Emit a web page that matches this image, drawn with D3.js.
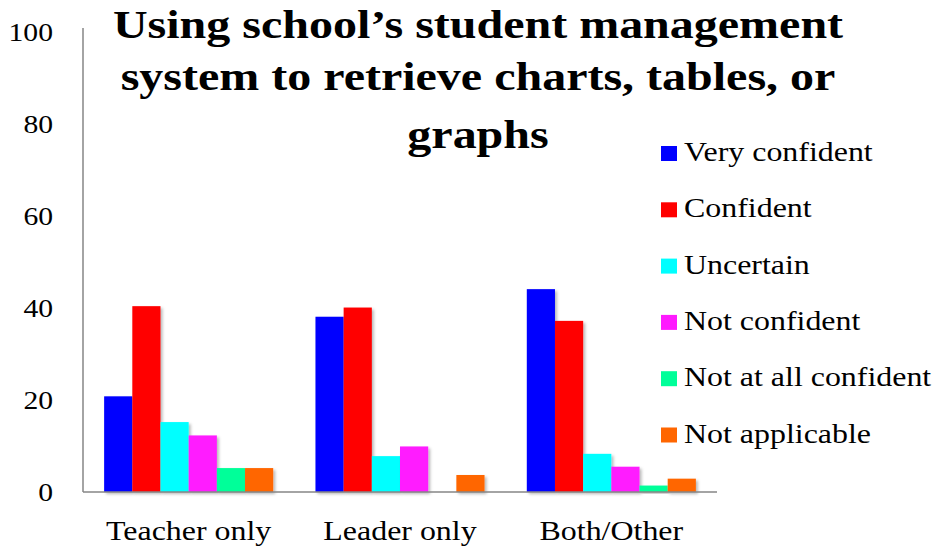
<!DOCTYPE html>
<html>
<head>
<meta charset="utf-8">
<script src="https://cdn.jsdelivr.net/npm/d3@7"></script>
<style>
  html, body { margin: 0; padding: 0; background: #fff; }
  svg { display: block; }
</style>
</head>
<body>
<svg id="chart" width="942" height="548"></svg>
<script>
const categories = ["Teacher only", "Leader only", "Both/Other"];
const seriesNames = ["Very confident", "Confident", "Uncertain", "Not confident", "Not at all confident", "Not applicable"];
const veryConfident = [20.8, 38.1, 44.1];
const confident = [40.4, 40.1, 37.2];
const uncertain = [15.2, 7.8, 8.3];
const notConfident = [12.3, 9.9, 5.5];
const notAtAllConfident = [5.2, 0, 1.4];
const notApplicable = [5.2, 3.7, 2.9];
const yTicks = [0, 20, 40, 60, 80, 100];
const titleLines = ["Using school\u2019s student management", "system to retrieve charts, tables, or", "graphs"];
const colors = ["#0000ff", "#ff0000", "#00ffff", "#ff1aff", "#00ff99", "#ff6600"];

const seriesValues = [veryConfident, confident, uncertain, notConfident, notAtAllConfident, notApplicable];
const FONT = "Liberation Serif";
const sx = 1.14;      // horizontal stretch of regular text as in the reference
const sxTitle = 1.2;  // horizontal stretch of title

const svg = d3.select("#chart");
const defs = svg.append("defs");
const f = defs.append("filter").attr("id", "shadow").attr("x", "-20%").attr("y", "-20%").attr("width", "150%").attr("height", "150%");
f.append("feDropShadow").attr("dx", 2).attr("dy", 2).attr("stdDeviation", 1.5).attr("flood-color", "#000").attr("flood-opacity", 0.28);

const plotLeft = 83, plotRight = 717, plotTop = 32, plotBottom = 492;
const y = d3.scaleLinear().domain([0, 100]).range([plotBottom, plotTop]);
const x0 = d3.scaleBand().domain(categories).range([plotLeft, plotRight]).paddingInner(0.2).paddingOuter(0.1);
const x1 = d3.scaleBand().domain(seriesNames).range([0, x0.bandwidth()]);

// bars
const groups = svg.append("g").selectAll("g").data(categories).join("g")
  .attr("transform", d => `translate(${x0(d)},0)`);
groups.selectAll("rect")
  .data((c, ci) => seriesNames.map((s, si) => ({ s, si, v: seriesValues[si][ci] })).filter(d => d.v > 0))
  .join("rect")
  .attr("x", d => x1(d.s))
  .attr("y", d => y(d.v))
  .attr("width", x1.bandwidth())
  .attr("height", d => y(0) - y(d.v))
  .attr("fill", d => colors[d.si])
  .attr("filter", "url(#shadow)");

// axes lines
svg.append("line").attr("x1", plotLeft).attr("x2", plotLeft).attr("y1", 28).attr("y2", plotBottom)
  .attr("stroke", "#868686").attr("stroke-width", 1.5);
svg.append("line").attr("x1", plotLeft).attr("x2", plotRight).attr("y1", plotBottom).attr("y2", plotBottom)
  .attr("stroke", "#868686").attr("stroke-width", 1.5);

// y tick labels
svg.append("g").selectAll("text").data(yTicks).join("text")
  .attr("transform", d => `translate(53,${y(d) + 9}) scale(${sx},1)`)
  .attr("text-anchor", "end")
  .attr("font-family", FONT)
  .attr("font-size", 26)
  .text(d => d);

// x labels
svg.append("g").selectAll("text").data(categories).join("text")
  .attr("transform", d => `translate(${x0(d) + x0.bandwidth() / 2},540) scale(${sx},1)`)
  .attr("text-anchor", "middle")
  .attr("font-family", FONT)
  .attr("font-size", 28)
  .text(d => d);

// title
const titleY = [38, 90, 148];
svg.append("g").selectAll("text").data(titleLines).join("text")
  .attr("transform", (d, i) => `translate(478,${titleY[i]}) scale(${sxTitle},1)`)
  .attr("text-anchor", "middle")
  .attr("font-family", FONT)
  .attr("font-size", 40)
  .attr("font-weight", "bold")
  .text(d => d);

// legend
const lg = svg.append("g").selectAll("g").data(seriesNames).join("g")
  .attr("transform", (d, i) => `translate(661,${161 + i * 56.3})`);
lg.append("rect").attr("x", 0).attr("y", -15).attr("width", 16).attr("height", 15)
  .attr("fill", (d, i) => colors[i]);
lg.append("text")
  .attr("transform", `translate(23,0) scale(${sx},1)`)
  .attr("font-family", FONT)
  .attr("font-size", 28)
  .text(d => d);
</script>
</body>
</html>
